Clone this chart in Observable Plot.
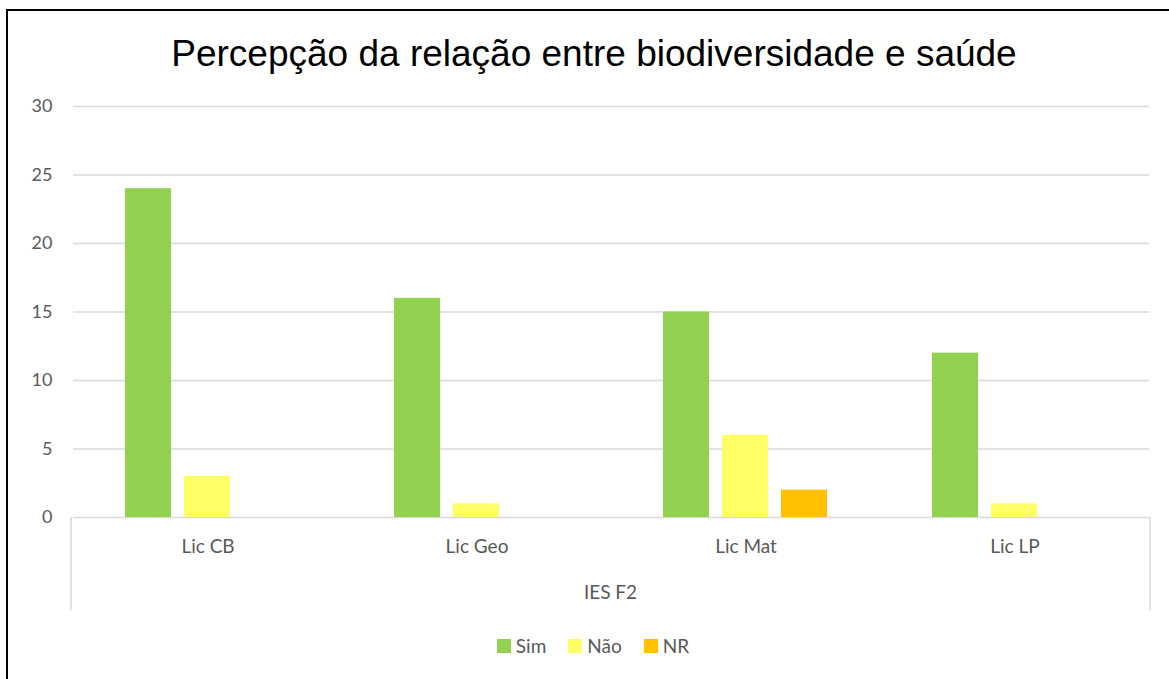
<!DOCTYPE html>
<html><head><meta charset="utf-8">
<script src="https://cdn.jsdelivr.net/npm/d3@7"></script>
<script src="https://cdn.jsdelivr.net/npm/@observablehq/plot@0.6"></script>
<style>
body{margin:0;background:#fff;overflow:hidden;font-family:Lato,sans-serif;}
#wrap{position:relative;width:1169px;height:679px;overflow:hidden;}
#frame{position:absolute;left:6px;top:9px;width:1200px;height:700px;border-left:2px solid #000;border-top:2px solid #000;}
#title{position:absolute;left:0;width:1188px;top:35px;text-align:center;font-family:"Liberation Sans",Arial,sans-serif;font-size:37px;line-height:37px;color:#000;white-space:nowrap;}
#chart{position:absolute;left:0;top:86px;}
#legend{position:absolute;left:0;width:1186px;top:634px;display:flex;justify-content:center;align-items:center;font-size:19px;color:#595959;line-height:24px;}
.item{display:flex;align-items:center;margin:0 11px;}
.sw{width:14px;height:14px;margin-right:5px;}
</style></head>
<body>
<div id="wrap">
  <div id="frame"></div>
  <div id="title"></div>
  <div id="chart"></div>
  <div id="legend"></div>
</div>
<script>
const titleText = "Percepção da relação entre biodiversidade e saúde";
const categories = ["Lic CB", "Lic Geo", "Lic Mat", "Lic LP"];
const series = ["Sim", "Não", "NR"];
const simValues = [24, 16, 15, 12];
const naoValues = [3, 1, 6, 1];
const nrValues = [0, 0, 2, 0];
const seriesColors = ["#92D050", "#FFFF66", "#FFC000"];
const yTicks = [0, 5, 10, 15, 20, 25, 30];
const groupLabel = "IES F2";

const valuesBySeries = [simValues, naoValues, nrValues];
const data = [];
series.forEach((s, si) => categories.forEach((c, ci) => {
  const v = valuesBySeries[si][ci];
  if (v > 0) data.push({category: c, series: s, value: v});
}));

document.getElementById("title").textContent = titleText;

const chart = Plot.plot({
  width: 1169, height: 530,
  marginLeft: 71, marginRight: 19, marginTop: 20, marginBottom: 99,
  fx: {domain: categories, padding: 0, label: null},
  x: {domain: series, axis: null, paddingInner: 0.22, paddingOuter: 0.86},
  y: {domain: [0, 30], label: null},
  color: {domain: series, range: seriesColors},
  style: {fontFamily: "Lato, sans-serif", fontSize: "18px", color: "#595959", background: "transparent"},
  marks: [
    Plot.gridY(yTicks, {stroke: "#d9d9d9", strokeOpacity: 1, strokeWidth: 1.3}),
    Plot.axisY(yTicks, {tickSize: 0, tickPadding: 21, label: null, fontSize: 18}),
    Plot.axisFx({anchor: "bottom", tickSize: 0, tickPadding: 22, label: null, fontSize: 19}),
    Plot.barY(data, {fx: "category", x: "series", y: "value", fill: "series"})
  ]
});
document.getElementById("chart").appendChild(chart);

// multi-level category frame drawn from the plot's own scales
const fxs = chart.scale("fx"), ys = chart.scale("y");
const x0 = fxs.range[0], x1 = fxs.range[1], base = ys.apply(0);
const svg = d3.select(chart.tagName.toLowerCase() === "svg" ? chart : chart.querySelector("svg"));
[x0, x1].forEach(xv => svg.append("line")
  .attr("x1", xv).attr("x2", xv).attr("y1", base).attr("y2", base + 93)
  .attr("stroke", "#d9d9d9").attr("stroke-width", 1.5));
svg.append("text").attr("x", (x0 + x1) / 2).attr("y", base + 77)
  .attr("text-anchor", "middle").attr("dominant-baseline", "middle")
  .attr("fill", "#595959").attr("font-size", 19).text(groupLabel);

const legend = document.getElementById("legend");
series.forEach((s, i) => {
  const it = document.createElement("div"); it.className = "item";
  const sw = document.createElement("div"); sw.className = "sw"; sw.style.background = seriesColors[i];
  const tx = document.createElement("span"); tx.textContent = s;
  it.appendChild(sw); it.appendChild(tx); legend.appendChild(it);
});
</script>
</body></html>
